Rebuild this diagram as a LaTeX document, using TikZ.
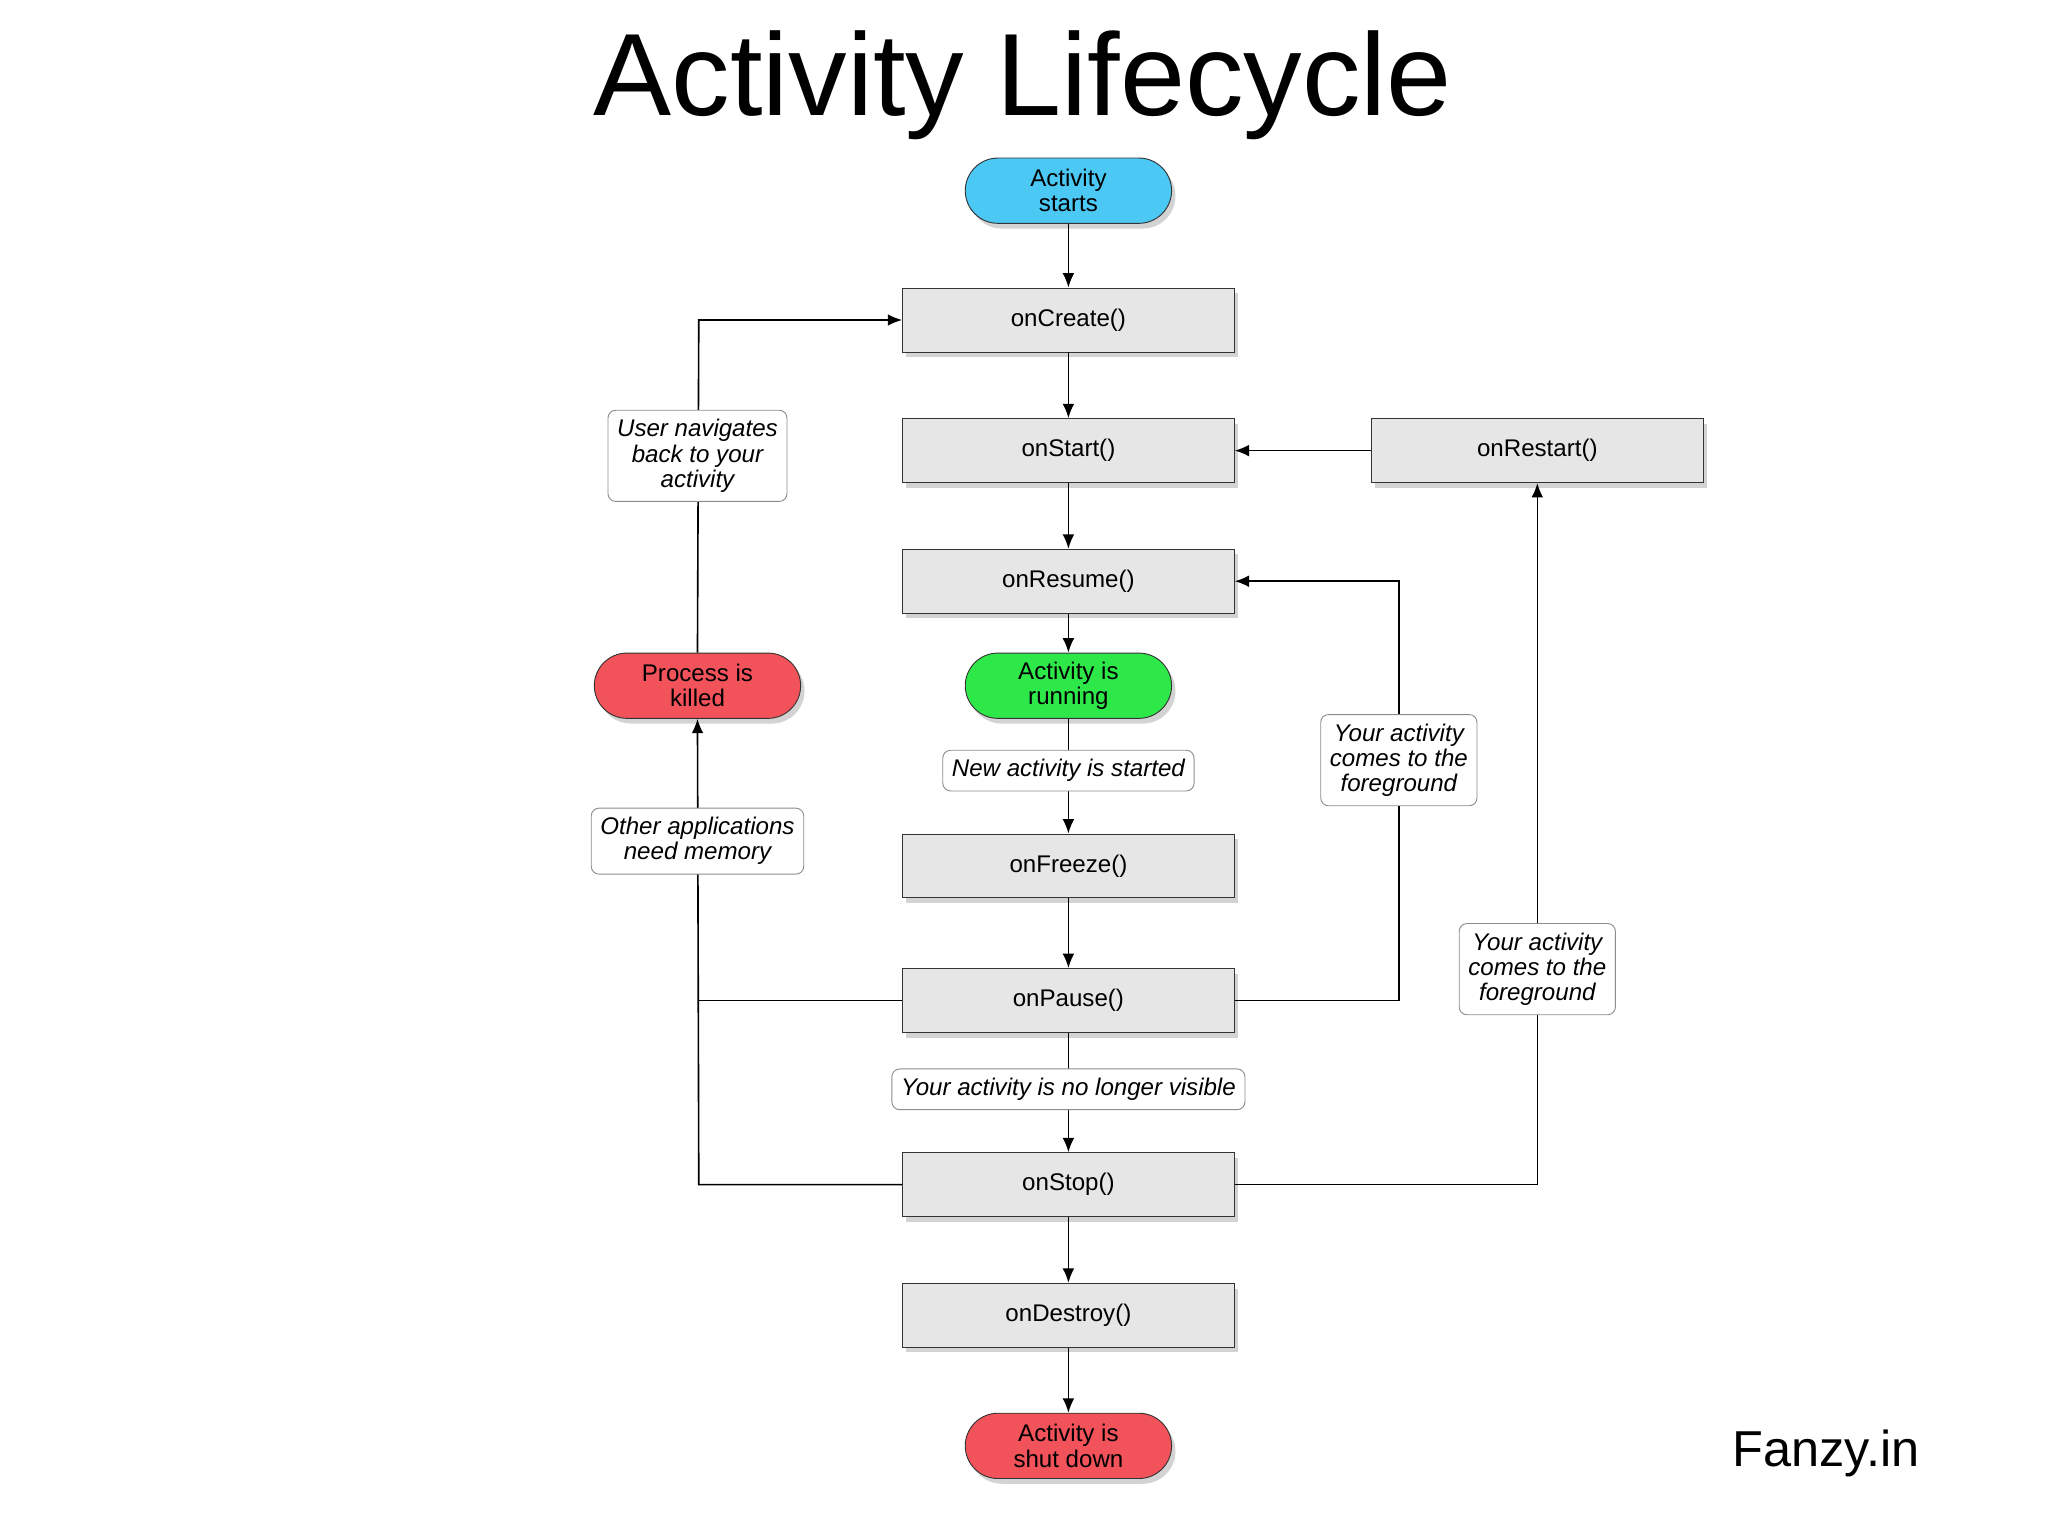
\documentclass[tikz,border=0pt]{standalone}
\usepackage{fontspec}
\setmainfont{Liberation Sans}
\usetikzlibrary{shadows,arrows.meta}
\definecolor{boxgray}{HTML}{E6E6E6}
\definecolor{cyanst}{HTML}{4CC8F5}
\definecolor{greenrun}{HTML}{2EE84A}
\definecolor{redk}{HTML}{F2525A}
\tikzset{
  x=0.02cm,y=-0.02cm,
  meth/.style={draw=black!80,fill=boxgray,minimum width=5.08cm,minimum height=0.98cm,font=\fontsize{10.5}{12}\selectfont,drop shadow={shadow xshift=0.06cm,shadow yshift=-0.08cm,opacity=0.35}},
  pill/.style={draw=black!80,rounded corners=0.5cm,minimum width=3.16cm,minimum height=1cm,align=center,font=\fontsize{10.5}{11}\selectfont,drop shadow={shadow xshift=0.06cm,shadow yshift=-0.08cm,opacity=0.35}},
  lab/.style={draw=black!45,fill=white,rounded corners=0.12cm,align=center,font=\fontsize{10.5}{11}\selectfont\itshape,inner sep=0.14cm},
  arr/.style={-{Latex[length=0.22cm,width=0.18cm]},line width=0.7pt},
  ln/.style={line width=0.7pt}
}
\begin{document}
\begin{tikzpicture}
\useasboundingbox (0,0) rectangle (1568,1175);
\node[font=\fontsize{51}{55}\selectfont] (title) at (783,65) {Activity Lifecycle};
\node[pill,fill=cyanst] (start) at (818,146) {Activity\\starts};
\node[meth] (create) at (818,245) {onCreate()};
\node[meth] (startm) at (818,345) {onStart()};
\node[meth] (restart) at (1177,345) {onRestart()};
\node[meth] (resume) at (818,445) {onResume()};
\node[pill,fill=greenrun] (run) at (818,525) {Activity is\\running};
\node[pill,fill=redk] (killed) at (534,525) {Process is\\killed};
\node[meth] (freeze) at (818,663) {onFreeze()};
\node[meth] (pause) at (818,766) {onPause()};
\node[meth] (stop) at (818,907) {onStop()};
\node[meth] (destroy) at (818,1007) {onDestroy()};
\node[pill,fill=redk] (shut) at (818,1107) {Activity is\\shut down};
\node[font=\fontsize{22}{24}\selectfont] (fanzy) at (1398,1113) {Fanzy.in};
\coordinate (c1) at (535,245);
\coordinate (c2) at (535,766);
\coordinate (c3) at (535,907);
\coordinate (c4) at (1071,766);
\coordinate (c5) at (1071,445);
\coordinate (c6) at (1177,907);
\draw[arr] (start) -- (create);
\draw[arr] (create) -- (startm);
\draw[arr] (startm) -- (resume);
\draw[arr] (resume) -- (run);
\draw[arr] (run) -- (freeze);
\draw[arr] (freeze) -- (pause);
\draw[arr] (pause) -- (stop);
\draw[arr] (stop) -- (destroy);
\draw[arr] (destroy) -- (shut);
\draw[arr] (restart) -- (startm);
\draw[arr] (stop.east) -- (c6) -- (restart.south);
\draw[arr] (pause.east) -- (c4) -- (c5) -- (resume.east);
\draw[ln] (pause.west) -- (c2);
\draw[arr] (stop.west) -- (c3) -- (killed.south);
\draw[arr] (killed.north) -- (c1) -- (create.west);
\node[lab] (l1) at (534,349) {User navigates\\back to your\\activity};
\node[lab] (l2) at (818,590) {New activity is started};
\node[lab] (l3) at (534,644) {Other applications\\need memory};
\node[lab] (l4) at (1071,582) {Your activity\\comes to the\\foreground};
\node[lab] (l5) at (1177,742) {Your activity\\comes to the\\foreground};
\node[lab] (l6) at (818,834) {Your activity is no longer visible};
\end{tikzpicture}
\end{document}
